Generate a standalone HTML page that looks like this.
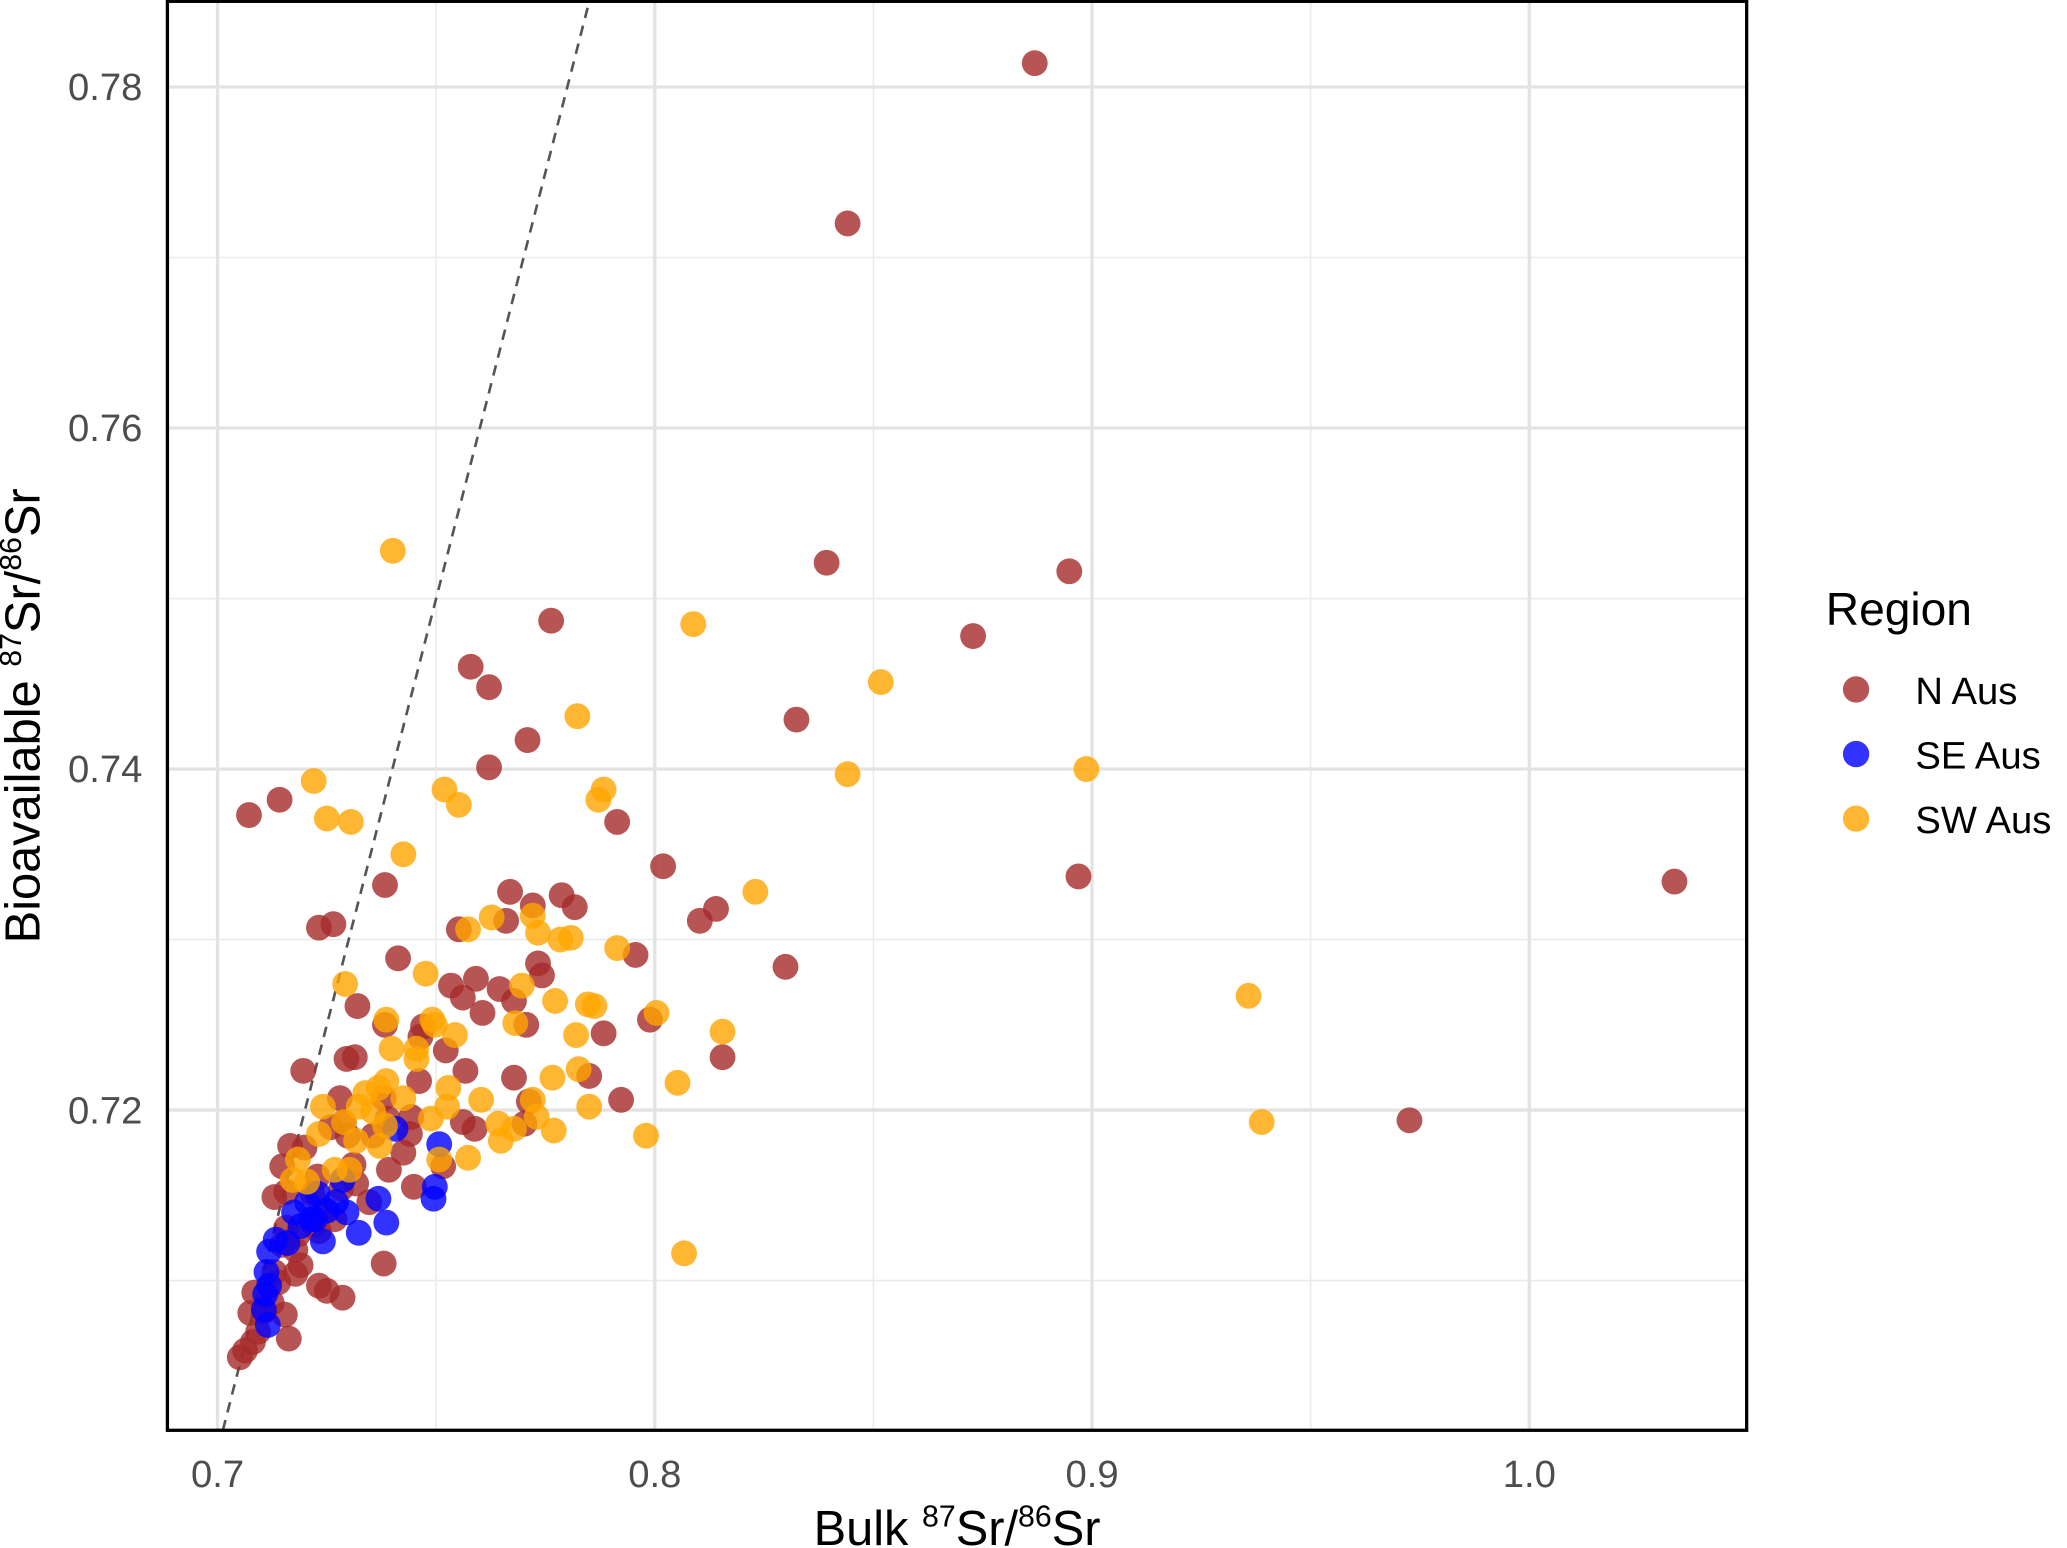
<!DOCTYPE html>
<html><head><meta charset="utf-8">
<style>
html,body{margin:0;padding:0;background:#fff;}
svg{display:block;font-family:"Liberation Sans",Arial,sans-serif;}
</style></head>
<body>
<svg id="chart" width="2067" height="1548" viewBox="0 0 1568 1174.3" xmlns="http://www.w3.org/2000/svg">
<g id="grid"></g>
<line id="ref" stroke="#555" stroke-width="2" stroke-dasharray="8,6"/>
<g id="pts"></g>
<rect x="127" y="1" width="1198" height="1084" fill="none" stroke="#000" stroke-width="2.5"/>
<g id="ticks"></g>
<text x="726" y="1172" text-anchor="middle" font-size="37" fill="#000">Bulk <tspan font-size="23" dy="-14">87</tspan><tspan dy="14">Sr/</tspan><tspan font-size="23" dy="-14">86</tspan><tspan dy="14">Sr</tspan></text>
<text transform="translate(30,543) rotate(-90)" text-anchor="middle" font-size="37" fill="#000">Bioavailable <tspan font-size="23" dy="-14">87</tspan><tspan dy="14">Sr/</tspan><tspan font-size="23" dy="-14">86</tspan><tspan dy="14">Sr</tspan></text>
<g>
<text x="1385" y="474" font-size="35" fill="#000">Region</text>
<circle cx="1408" cy="523" r="10" fill="#a52a2a" fill-opacity="0.8"/>
<text x="1453" y="534" font-size="29">N Aus</text>
<circle cx="1408" cy="572" r="10" fill="#0000ff" fill-opacity="0.8"/>
<text x="1453" y="583" font-size="29">SE Aus</text>
<circle cx="1408" cy="621" r="10" fill="#ffa500" fill-opacity="0.8"/>
<text x="1453" y="632" font-size="29">SW Aus</text>
</g>
</svg>
<script>
const xTicks=[0.7,0.8,0.9,1.0];
const xTickLabels=["0.7","0.8","0.9","1.0"];
const yTicks=[0.72,0.74,0.76,0.78];
const yTickLabels=["0.72","0.74","0.76","0.78"];
const xMinor=[0.75,0.85,0.95];
const yMinor=[0.71,0.73,0.75,0.77];
const nAusX=[0.8869,0.8441,0.8948,0.8393,0.7763,0.8728,0.7579,0.7621,0.8324,0.7709,0.7621,0.7072,0.7142,0.7383,0.7914,0.8019,0.8969,1.0332,0.8140,0.8103,0.8299,0.7232,0.7265,0.7413,0.7552,0.7660,0.7669,0.7721,0.7787,0.7817,0.7956,0.7733,0.7742,0.7645,0.7591,0.7534,0.7561,0.7606,0.7678,0.7706,0.7470,0.7464,0.7522,0.7320,0.7383,0.7295,0.7314,0.7196,0.7280,0.7380,0.7461,0.7567,0.7678,0.7712,0.7923,0.7850,0.7883,0.7989,0.8155,0.9726,0.7561,0.7588,0.7702,0.7443,0.7440,0.7425,0.7392,0.7449,0.7516,0.7380,0.7286,0.7250,0.7232,0.7163,0.7139,0.7154,0.7166,0.7148,0.7199,0.7259,0.7289,0.7298,0.7311,0.7283,0.7244,0.7220,0.7184,0.7148,0.7130,0.7084,0.7075,0.7093,0.7063,0.7051,0.7081,0.7190,0.7178,0.7157,0.7130,0.7217,0.7268,0.7317,0.7356,0.7389,0.7347,0.7232,0.7157,0.7178,0.7124,0.7106,0.7229];
const nAusY=[0.7814,0.7720,0.7516,0.7521,0.7487,0.7478,0.7460,0.7448,0.7429,0.7417,0.7401,0.7373,0.7382,0.7332,0.7369,0.7343,0.7337,0.7334,0.7318,0.7311,0.7284,0.7307,0.7309,0.7289,0.7306,0.7311,0.7328,0.7320,0.7326,0.7319,0.7291,0.7286,0.7279,0.7271,0.7277,0.7273,0.7266,0.7257,0.7264,0.7250,0.7249,0.7243,0.7235,0.7261,0.7250,0.7230,0.7231,0.7223,0.7207,0.7207,0.7217,0.7223,0.7219,0.7205,0.7206,0.7220,0.7245,0.7253,0.7231,0.7194,0.7193,0.7189,0.7192,0.7196,0.7186,0.7175,0.7165,0.7155,0.7167,0.7110,0.7090,0.7094,0.7097,0.7066,0.7099,0.7080,0.7179,0.7167,0.7178,0.7190,0.7193,0.7185,0.7168,0.7154,0.7141,0.7133,0.7127,0.7121,0.7105,0.7093,0.7081,0.7070,0.7059,0.7055,0.7064,0.7109,0.7118,0.7152,0.7149,0.7151,0.7136,0.7157,0.7185,0.7195,0.7146,0.7129,0.7131,0.7104,0.7087,0.7082,0.7161];
const seAusX=[0.7494,0.7497,0.7507,0.7407,0.7386,0.7323,0.7295,0.7271,0.7250,0.7229,0.7205,0.7214,0.7190,0.7175,0.7160,0.7133,0.7118,0.7112,0.7109,0.7106,0.7115,0.7118,0.7241,0.7223,0.7286,0.7368];
const seAusY=[0.7148,0.7155,0.7180,0.7189,0.7134,0.7128,0.7140,0.7146,0.7141,0.7151,0.7146,0.7136,0.7132,0.7140,0.7122,0.7124,0.7117,0.7105,0.7092,0.7083,0.7074,0.7097,0.7123,0.7136,0.7159,0.7148];
const swAusX=[0.7401,0.8088,0.8517,0.7823,0.7220,0.7250,0.7305,0.7425,0.7519,0.7552,0.7871,0.7883,0.8441,0.8987,0.8230,0.7573,0.7627,0.7733,0.7721,0.7808,0.7784,0.7914,0.7292,0.7476,0.7386,0.7398,0.7455,0.7491,0.7455,0.7497,0.7543,0.7696,0.7681,0.7772,0.7862,0.7847,0.8004,0.8155,0.7820,0.7528,0.7603,0.7525,0.7488,0.7642,0.7648,0.7678,0.7769,0.7850,0.7826,0.8052,0.7980,0.7573,0.7507,0.7356,0.7368,0.7386,0.7425,0.7338,0.7323,0.7289,0.7317,0.7241,0.7232,0.7184,0.7172,0.7205,0.7268,0.7302,0.7371,0.7383,0.9358,0.9388,0.8067,0.7766,0.7721,0.7730];
const swAusY=[0.7528,0.7485,0.7451,0.7431,0.7393,0.7371,0.7369,0.7350,0.7388,0.7379,0.7382,0.7388,0.7397,0.7400,0.7328,0.7306,0.7313,0.7304,0.7314,0.7301,0.7300,0.7295,0.7274,0.7280,0.7253,0.7236,0.7236,0.7253,0.7230,0.7250,0.7244,0.7273,0.7251,0.7264,0.7261,0.7262,0.7257,0.7246,0.7244,0.7213,0.7206,0.7202,0.7195,0.7192,0.7182,0.7189,0.7188,0.7202,0.7224,0.7216,0.7185,0.7172,0.7171,0.7199,0.7213,0.7217,0.7207,0.7210,0.7202,0.7193,0.7182,0.7202,0.7186,0.7171,0.7159,0.7158,0.7165,0.7165,0.7179,0.7191,0.7267,0.7193,0.7116,0.7219,0.7206,0.7196];

const NS="http://www.w3.org/2000/svg";
const L=127,R=1325,T=1,B=1085;
function sx(v){return 165+(v-0.7)*3317;}
function sy(v){return 66+(0.78-v)*12935;}
function mk(tag,attrs,parent){const e=document.createElementNS(NS,tag);for(const k in attrs)e.setAttribute(k,attrs[k]);parent.appendChild(e);return e;}
const grid=document.getElementById('grid');
mk('rect',{x:L,y:T,width:R-L,height:B-T,fill:'#fff'},grid);
xMinor.forEach(v=>{const e=mk('line',{x1:sx(v),x2:sx(v),y1:T,y2:B,stroke:'#ebebeb','stroke-width':1.2},grid);

});
yMinor.forEach(v=>{const e=mk('line',{x1:L,x2:R,y1:sy(v),y2:sy(v),stroke:'#ebebeb','stroke-width':1.2},grid);

});
xTicks.forEach(v=>{const e=mk('line',{x1:sx(v),x2:sx(v),y1:T,y2:B,stroke:'#e3e3e3','stroke-width':2.5},grid);

});
yTicks.forEach(v=>{const e=mk('line',{x1:L,x2:R,y1:sy(v),y2:sy(v),stroke:'#e3e3e3','stroke-width':2.5},grid);

});
const yb=0.78-(B-66)/12935, yt=0.78-(T-66)/12935;
const ref=document.getElementById('ref');
ref.setAttribute('x1',sx(yb));ref.setAttribute('y1',B);
ref.setAttribute('x2',sx(yt));ref.setAttribute('y2',T);
const ticks=document.getElementById('ticks');
xTicks.forEach((v,i)=>{const t=mk('text',{x:sx(v),y:1128,'text-anchor':'middle','font-size':29,fill:'#4d4d4d'},ticks);t.textContent=xTickLabels[i];

});
yTicks.forEach((v,i)=>{const t=mk('text',{x:108,y:sy(v)+10,'text-anchor':'end','font-size':29,fill:'#4d4d4d'},ticks);t.textContent=yTickLabels[i];

});
const pts=document.getElementById('pts');
function series(xs,ys,col,name){xs.forEach((x,i)=>{const c=mk('circle',{cx:sx(x),cy:sy(ys[i]),r:9.8,fill:col,'fill-opacity':0.8},pts);

});}
series(nAusX,nAusY,'#a52a2a','point-n-aus');
series(seAusX,seAusY,'#0000ff','point-se-aus');
series(swAusX,swAusY,'#ffa500','point-sw-aus');
</script>
</body></html>
